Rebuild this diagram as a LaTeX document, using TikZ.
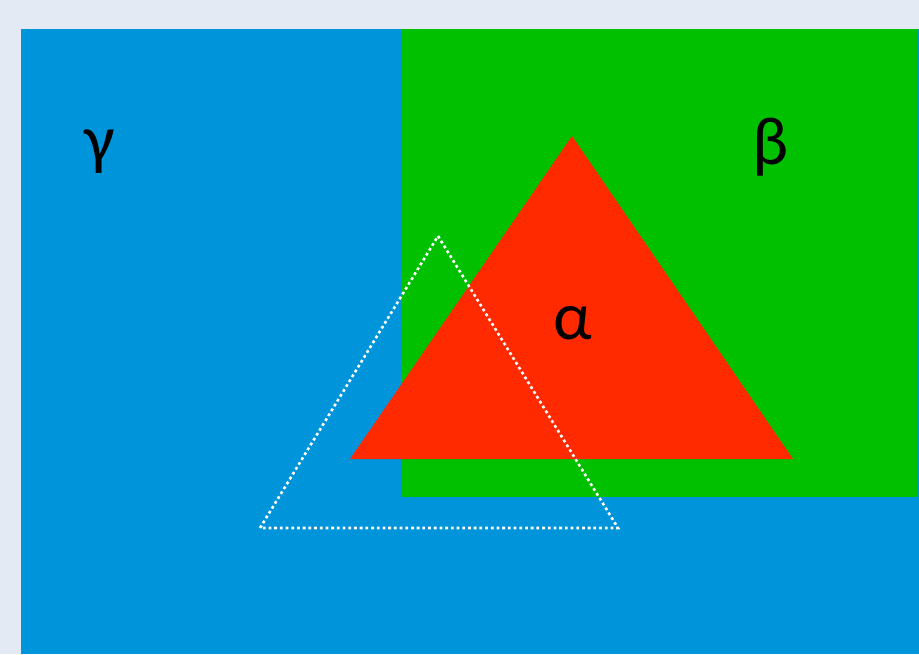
\documentclass[tikz,border=0pt]{standalone}
\usepackage{fontspec}
\setmainfont{Carlito}
\usetikzlibrary{positioning}
\definecolor{pageBg}{HTML}{E4EAF4}
\definecolor{gammaBlue}{HTML}{0094DA}
\definecolor{betaGreen}{HTML}{00C000}
\definecolor{alphaRed}{HTML}{FF2A00}
\tikzset{
  set label/.style={font=\fontsize{68}{80}\selectfont,text=black,inner sep=0pt},
  dotted outline/.style={draw=white,line width=2.6pt,dash pattern=on 2.8pt off 2.9pt}
}
\begin{document}
\begin{tikzpicture}[x=1pt,y=-1pt]
  \useasboundingbox (0,0) rectangle (919,654);
  \fill[pageBg] (0,0) rectangle (919,654);

  % the three sets
  \fill[gammaBlue] (21,29) rectangle (919,654);
  \fill[betaGreen] (401,29) rectangle (917,497);
  \fill[alphaRed] (572,136) -- (793,459) -- (350,459) -- cycle;

  % outline triangle
  \coordinate (tipTop) at (438,236);
  \coordinate (tipLeft) at (260,528);
  \coordinate (tipRight) at (618,528);
  \draw[dotted outline] (tipTop) -- (tipRight) -- (tipLeft) -- cycle;

  \node[set label] (gamma) at (100,152) {γ};
  \node[set label] (beta) at (771,147) {β};
  \node[set label] (alpha) at (573,323) {α};
\end{tikzpicture}
\end{document}
